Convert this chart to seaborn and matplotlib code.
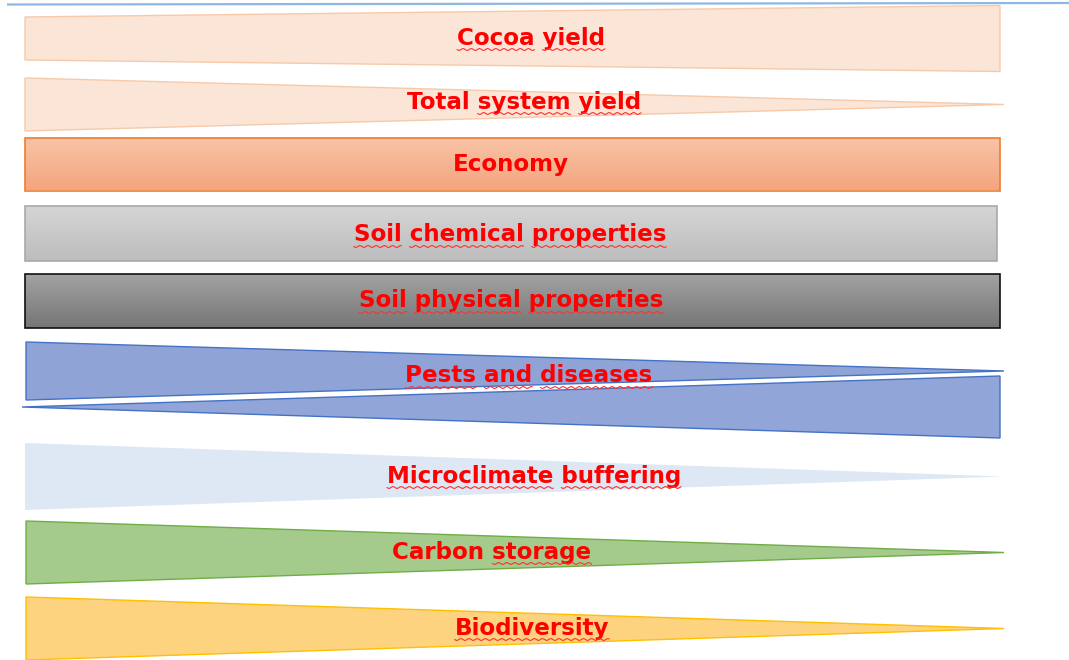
import numpy as np
import matplotlib
matplotlib.use("Agg")
import matplotlib.pyplot as plt
from matplotlib.patches import Polygon
from matplotlib.colors import LinearSegmentedColormap
import seaborn as sns

# bands, top to bottom (thickness at the left end and at the right end)
labels = ["Cocoa yield", "Total system yield", "Economy", "Soil chemical properties",
          "Soil physical properties", "Pests and diseases", "Pests and diseases",
          "Microclimate buffering", "Carbon storage", "Biodiversity"]
left_thick = [43, 53, 53, 55, 54, 58, 0, 67, 63, 63]
right_thick = [66, 0, 53, 55, 54, 0, 62, 0, 0, 0]
show_label = [True, True, True, True, True, True, False, True, True, True]
# words with the red wavy spell-check underline
wavy_words = [["Cocoa", "yield"], ["system", "yield"], [], ["Soil", "chemical", "properties"],
              ["Soil", "physical", "properties"], ["Pests", "and", "diseases"], [],
              ["Microclimate", "buffering"], ["storage"], ["Biodiversity"]]

# layout (pixels)
centers = [38.5, 104.5, 164, 233.5, 301, 371, 407, 476.5, 552.5, 628.5]
x_left = [25, 25, 25, 25, 25, 26, 22, 25, 26, 26]
x_right = [1000, 1004, 1000, 997, 1000, 1004, 1000, 1004, 1004, 1004]
label_x = [531, 524, 511, 510, 511, 529, None, 534, 492, 532]
label_y = [38, 102, 165, 235, 301, 376, None, 476, 552, 628]
fills = ["#fbe5d6", "#fbe5d6", ("#f8c4a6", "#f4a57f"), ("#d5d5d5", "#bdbdbd"),
         ("#a2a2a2", "#767676"), "#8fa3d7", "#91a5d8", "#dde8f4", "#a4cb8c", "#fed37f"]
edges = ["#f6caa9", "#f6caa9", "#ed7d31", "#a9a9a9", "#111111", "#4472c4", "#4472c4",
         "none", "#70ad47", "#ffc000"]

sns.set_theme(style="white")
fig = plt.figure(figsize=(10.69, 6.60), dpi=100)
ax = fig.add_axes([0, 0, 1, 1])
ax.set_xlim(0, 1069)
ax.set_ylim(660, 0)
ax.axis("off")

# thin blue rule across the top
ax.plot([7, 1069], [4.5, 3], color="#8fb7e3", lw=1.6, solid_capstyle="butt")

for i in range(len(labels)):
    c = centers[i]
    lt, rt = left_thick[i] / 2, right_thick[i] / 2
    pts = [(x_left[i], c - lt), (x_right[i], c - rt), (x_right[i], c + rt), (x_left[i], c + lt)]
    f = fills[i]
    if isinstance(f, tuple):
        poly = Polygon(pts, closed=True, facecolor="none", edgecolor=edges[i], lw=1.2, zorder=3)
        ax.add_patch(poly)
        cmap = LinearSegmentedColormap.from_list("g%d" % i, [f[0], f[1]])
        grad = np.linspace(0, 1, 64).reshape(-1, 1)
        top = c - max(lt, rt)
        bot = c + max(lt, rt)
        im = ax.imshow(grad, cmap=cmap, aspect="auto", extent=[x_left[i], x_right[i], bot, top],
                       zorder=2, interpolation="bilinear")
        clip = Polygon(pts, closed=True, transform=ax.transData)
        im.set_clip_path(clip)
    else:
        poly = Polygon(pts, closed=True, facecolor=f, edgecolor=edges[i], lw=1.0,
                       joinstyle="miter", zorder=2)
        ax.add_patch(poly)

ax.set_xlim(0, 1069)
ax.set_ylim(660, 0)

fig.canvas.draw()
renderer = fig.canvas.get_renderer()
fsize = 16.6
for i in range(len(labels)):
    if not show_label[i]:
        continue
    t = ax.text(label_x[i], label_y[i], labels[i], color="#ff0000", fontsize=fsize, fontweight="bold",
                family="DejaVu Sans", ha="center", va="center", zorder=5)
    bb = t.get_window_extent(renderer)
    inv = ax.transData.inverted()
    (x0, _), (x1, _) = inv.transform([(bb.x0, bb.y0), (bb.x1, bb.y1)])
    text = labels[i]
    full_w = x1 - x0
    uy = label_y[i] + 11.5
    for w in wavy_words[i]:
        start = text.index(w)
        pre = ax.text(0, 0, text[:start], fontsize=fsize, fontweight="bold", family="DejaVu Sans")
        word = ax.text(0, 0, text[:start + len(w)], fontsize=fsize, fontweight="bold", family="DejaVu Sans")
        wp = pre.get_window_extent(renderer).width if start > 0 else 0
        ww = word.get_window_extent(renderer).width
        pre.remove()
        word.remove()
        scale = full_w / bb.width
        wx0 = x0 + wp * scale
        wx1 = x0 + ww * scale
        xs = np.linspace(wx0, wx1, int((wx1 - wx0) * 1.5) + 2)
        ys = uy + 0.9 * np.sin((xs - wx0) / 1.3)
        ax.plot(xs, ys, color="#ff3030", lw=0.8, zorder=6)

fig.savefig("out.png", dpi=100)
